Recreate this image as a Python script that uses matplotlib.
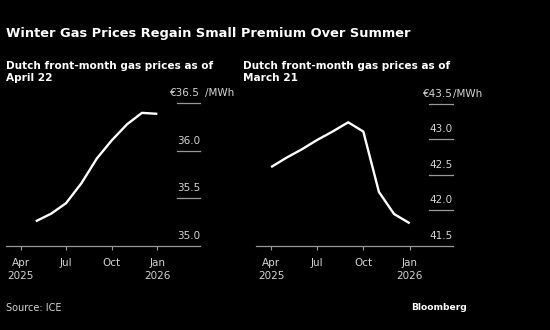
import numpy as np
import pandas as pd
import matplotlib
matplotlib.use("Agg")
import matplotlib.pyplot as plt
import matplotlib.transforms as mtransforms

# monthly front-month contract prices, EUR/MWh
apr_months = pd.date_range("2025-05-01", "2026-01-01", freq="MS")
apr_prices = [35.26, 35.34, 35.45, 35.66, 35.92, 36.11, 36.28, 36.40, 36.39]

mar_months = pd.date_range("2025-04-01", "2026-01-01", freq="MS")
mar_prices = [42.61, 42.74, 42.86, 42.99, 43.11, 43.24, 43.11, 42.26, 41.95, 41.82]

apr_yticks = [35.0, 35.5, 36.0, 36.5]
mar_yticks = [41.5, 42.0, 42.5, 43.0, 43.5]

xticks = pd.to_datetime(["2025-04-01", "2025-07-01", "2025-10-01", "2026-01-01"])
xlabels = ["Apr\n2025", "Jul", "Oct", "Jan\n2026"]

BG = "black"
FG = "white"
TICKC = "#d4d4d4"
AXC = "#9a9a9a"

W, H = 550, 330
fig = plt.figure(figsize=(W / 100, H / 100), dpi=100, facecolor=BG)

def px_axes(x0, x1, ytop, ybot):
    return fig.add_axes([x0 / W, (H - ybot) / H, (x1 - x0) / W, (ybot - ytop) / H])

def panel(ax, months, prices, yticks, ylim, unit_gap):
    ax.set_facecolor(BG)
    ax.plot(months, prices, color=FG, lw=1.7, solid_capstyle="butt")
    ax.set_xlim(pd.Timestamp("2025-03-02"), pd.Timestamp("2026-03-28"))
    ax.set_ylim(*ylim)
    for s in ["top", "right", "left"]:
        ax.spines[s].set_visible(False)
    ax.spines["bottom"].set_color(AXC)
    ax.spines["bottom"].set_linewidth(0.9)
    ax.set_xticks(xticks)
    ax.set_xticklabels(xlabels, fontsize=7.5, color=TICKC, linespacing=1.35)
    ax.tick_params(axis="x", length=3, width=0.8, color=AXC, pad=6)
    ax.set_yticks([])
    # short gridline stubs at the right edge with labels sitting on top
    tr = mtransforms.blended_transform_factory(ax.transAxes, ax.transData)
    tr_lab = mtransforms.offset_copy(tr, fig=fig, y=7, units="dots")
    for i, v in enumerate(yticks):
        if i > 0:
            ax.plot([0.88, 1.0], [v, v], color=AXC, lw=0.9, transform=tr,
                    clip_on=False)
        label = f"{v:.1f}"
        if i == len(yticks) - 1:
            label = "€" + label
            ax.text(1.0 + unit_gap, v, "/MWh", transform=tr_lab, ha="left",
                    va="baseline", fontsize=7.5, color=TICKC)
        ax.text(1.0, v, label, transform=tr_lab,
                ha="right", va="baseline", fontsize=7.5, color=TICKC)

ax1 = px_axes(6, 200, 95, 246)
panel(ax1, apr_months, apr_prices, apr_yticks, (35.0, 36.588), 0.025)

ax2 = px_axes(256, 453, 95, 246)
panel(ax2, mar_months, mar_prices, mar_yticks, (41.5, 43.624), 0.0)

fig.text(6 / W, 1 - 33 / H, "Winter Gas Prices Regain Small Premium Over Summer",
         fontsize=9.4, fontweight="bold", color=FG, va="center", ha="left")
fig.text(6 / W, 1 - 72 / H, "Dutch front-month gas prices as of\nApril 22",
         fontsize=7.6, fontweight="bold", color=FG, va="center", ha="left",
         linespacing=1.15)
fig.text(243 / W, 1 - 72 / H, "Dutch front-month gas prices as of\nMarch 21",
         fontsize=7.6, fontweight="bold", color=FG, va="center", ha="left",
         linespacing=1.15)
fig.text(6 / W, 1 - 308 / H, "Source: ICE", fontsize=7, color=TICKC,
         va="center", ha="left")
fig.text(411 / W, 1 - 307 / H, "Bloomberg", fontsize=6.6, fontweight="semibold",
         color=FG, va="center", ha="left")

fig.savefig("out.png", dpi=100, facecolor=BG)
